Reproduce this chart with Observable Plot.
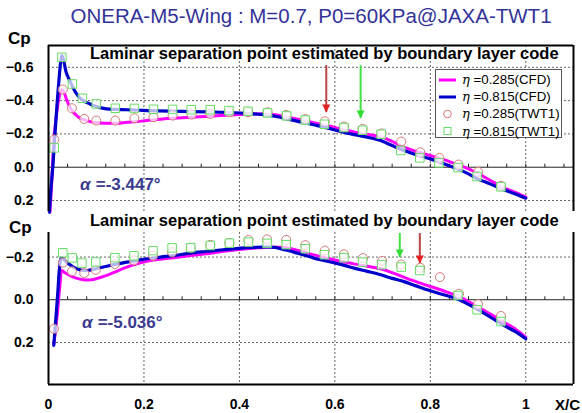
<!DOCTYPE html>
<html>
<head>
<meta charset="utf-8">
<script src="https://cdn.jsdelivr.net/npm/d3@7"></script>
<script src="https://cdn.jsdelivr.net/npm/@observablehq/plot@0.6"></script>
<style>
  body { margin: 0; background: #fff; font-family: "Liberation Sans", Arial, sans-serif; }
  #wrap { position: relative; width: 582px; height: 413px; overflow: hidden; background: #fff; }
  #title { position: absolute; left: 0; width: 622px; top: 6px; text-align: center; font-size: 20.5px; line-height: 1; color: #333399; white-space: nowrap; }
  .cp { position: absolute; font-size: 17px; font-weight: bold; line-height: 1; }
  #xc { position: absolute; left: 555px; top: 397px; font-size: 15px; font-weight: bold; line-height: 1; }
  .panel { position: absolute; left: 0; }
  #legend { position: absolute; left: 435px; top: 69px; width: 127px; height: 69px; border: 1px solid #555; background: #fff; box-sizing: border-box; padding-top: 1px; }
  #legend .row { height: 17.2px; display: flex; align-items: center; font-size: 13.3px; white-space: nowrap; }
  #legend svg { width: 24px; height: 14px; flex: none; }
  #legend i { font-family: "DejaVu Serif", serif; font-size: 13px; }
</style>
</head>
<body>
<div id="wrap">
  <div id="title">ONERA-M5-Wing : M=0.7, P0=60KPa@JAXA-TWT1</div>
  <div class="cp" style="left:8px;top:30px">Cp</div>
  <div class="cp" style="left:9px;top:219px">Cp</div>
  <div id="xc">X/C</div>
  <div id="top" class="panel" style="top:30px"></div>
  <div id="bottom" class="panel" style="top:205px"></div>
  <div id="legend"></div>
</div>
<script>
// Chordwise position X/C and pressure coefficient Cp, two span stations (eta).
// Upper panel: alpha = -3.447 deg
const topCfd285 = [
  [0.003,0.27],[0.007,0.08],[0.0115,-0.18],[0.017,-0.32],[0.021,-0.40],[0.025,-0.45],[0.028,-0.465],
  [0.032,-0.455],[0.035,-0.43],[0.040,-0.39],[0.045,-0.36],[0.052,-0.33],[0.059,-0.31],[0.068,-0.292],
  [0.08,-0.28],[0.094,-0.27],[0.108,-0.266],[0.125,-0.264],[0.143,-0.264],[0.165,-0.27],[0.185,-0.274],
  [0.21,-0.282],[0.24,-0.29],[0.27,-0.295],[0.30,-0.30],[0.33,-0.305],[0.36,-0.31],[0.39,-0.315],
  [0.42,-0.32],[0.45,-0.32],[0.475,-0.315],[0.5,-0.30],[0.52,-0.29],[0.542,-0.276],[0.563,-0.263],
  [0.584,-0.25],[0.605,-0.235],[0.626,-0.22],[0.647,-0.208],[0.668,-0.196],[0.696,-0.184],[0.72,-0.155],
  [0.745,-0.12],[0.77,-0.095],[0.80,-0.07],[0.83,-0.044],[0.857,-0.016],[0.88,0.01],[0.899,0.036],
  [0.925,0.078],[0.954,0.124],[0.98,0.153],[1.0,0.18]
];
const topCfd815 = [
  [0.002,0.27],[0.005,0.13],[0.009,0.0],[0.012,-0.13],[0.015,-0.26],[0.019,-0.42],[0.023,-0.56],
  [0.026,-0.645],[0.028,-0.67],[0.031,-0.65],[0.037,-0.57],[0.042,-0.535],[0.047,-0.505],[0.053,-0.47],
  [0.059,-0.44],[0.066,-0.415],[0.073,-0.40],[0.083,-0.385],[0.094,-0.37],[0.108,-0.358],[0.122,-0.35],
  [0.14,-0.347],[0.164,-0.345],[0.19,-0.342],[0.206,-0.34],[0.23,-0.338],[0.262,-0.336],[0.297,-0.334],
  [0.33,-0.332],[0.36,-0.33],[0.39,-0.327],[0.416,-0.323],[0.44,-0.318],[0.458,-0.314],[0.48,-0.303],
  [0.5,-0.29],[0.52,-0.277],[0.542,-0.264],[0.563,-0.25],[0.584,-0.236],[0.605,-0.22],[0.626,-0.204],
  [0.647,-0.192],[0.668,-0.18],[0.696,-0.16],[0.72,-0.13],[0.745,-0.10],[0.77,-0.075],[0.80,-0.05],
  [0.83,-0.02],[0.857,0.01],[0.88,0.04],[0.899,0.07],[0.925,0.10],[0.954,0.136],[0.98,0.162],[1.0,0.186]
];
const topTwt285 = [
  [0.012,-0.166],[0.030,-0.467],[0.049,-0.354],[0.075,-0.29],[0.10,-0.28],[0.14,-0.28],[0.18,-0.294],
  [0.22,-0.30],[0.26,-0.31],[0.30,-0.316],[0.339,-0.32],[0.379,-0.33],[0.418,-0.33],[0.459,-0.33],
  [0.498,-0.314],[0.538,-0.29],[0.579,-0.276],[0.619,-0.244],[0.658,-0.23],[0.698,-0.203],[0.739,-0.154],
  [0.779,-0.09],[0.819,-0.056],[0.859,-0.016],[0.90,0.028],[0.948,0.112]
];
const topTwt815 = [
  [0.012,-0.116],[0.028,-0.66],[0.05,-0.50],[0.071,-0.414],[0.10,-0.38],[0.14,-0.354],[0.18,-0.353],
  [0.22,-0.348],[0.26,-0.347],[0.299,-0.345],[0.339,-0.345],[0.378,-0.34],[0.418,-0.336],[0.459,-0.326],
  [0.499,-0.308],[0.538,-0.283],[0.578,-0.258],[0.619,-0.238],[0.658,-0.222],[0.697,-0.198],[0.738,-0.10],
  [0.778,-0.056],[0.818,-0.026],[0.858,0.002],[0.898,0.056],[0.948,0.118]
];

// Lower panel: alpha = -5.036 deg
const botCfd285 = [
  [0.011,0.21],[0.016,0.12],[0.02,0.03],[0.024,-0.067],[0.028,-0.137],[0.032,-0.13],[0.038,-0.122],
  [0.045,-0.113],[0.052,-0.106],[0.062,-0.099],[0.073,-0.094],[0.084,-0.093],[0.094,-0.095],[0.108,-0.104],
  [0.122,-0.114],[0.143,-0.133],[0.164,-0.153],[0.185,-0.168],[0.206,-0.18],[0.235,-0.19],[0.262,-0.197],
  [0.297,-0.207],[0.33,-0.215],[0.36,-0.225],[0.39,-0.233],[0.416,-0.239],[0.44,-0.243],[0.465,-0.246],
  [0.486,-0.246],[0.5,-0.244],[0.514,-0.236],[0.535,-0.224],[0.556,-0.21],[0.577,-0.198],[0.598,-0.187],
  [0.62,-0.177],[0.64,-0.168],[0.668,-0.157],[0.696,-0.145],[0.72,-0.127],[0.745,-0.105],[0.77,-0.085],
  [0.80,-0.062],[0.83,-0.04],[0.857,-0.018],[0.88,0.008],[0.899,0.032],[0.925,0.066],[0.954,0.105],
  [0.98,0.14],[1.0,0.175]
];
const botCfd815 = [
  [0.011,0.214],[0.014,0.13],[0.017,0.042],[0.020,-0.05],[0.023,-0.145],[0.027,-0.197],[0.032,-0.188],
  [0.038,-0.176],[0.045,-0.164],[0.052,-0.153],[0.06,-0.145],[0.07,-0.138],[0.082,-0.137],[0.094,-0.142],
  [0.108,-0.15],[0.122,-0.157],[0.143,-0.167],[0.164,-0.176],[0.185,-0.184],[0.206,-0.192],[0.235,-0.2],
  [0.262,-0.207],[0.297,-0.218],[0.33,-0.226],[0.36,-0.233],[0.39,-0.239],[0.416,-0.244],[0.44,-0.246],
  [0.458,-0.247],[0.475,-0.245],[0.486,-0.239],[0.5,-0.232],[0.514,-0.223],[0.535,-0.21],[0.556,-0.195],
  [0.577,-0.184],[0.598,-0.173],[0.62,-0.161],[0.64,-0.148],[0.668,-0.133],[0.696,-0.117],[0.72,-0.1],
  [0.745,-0.085],[0.77,-0.065],[0.80,-0.042],[0.83,-0.022],[0.857,-0.004],[0.88,0.022],[0.899,0.045],
  [0.925,0.08],[0.954,0.12],[0.98,0.152],[1.0,0.183]
];
const botTwt285 = [
  [0.0115,0.136],[0.03,-0.174],[0.049,-0.133],[0.075,-0.125],[0.099,-0.14],[0.139,-0.167],[0.179,-0.184],
  [0.219,-0.206],[0.259,-0.222],[0.298,-0.243],[0.339,-0.257],[0.379,-0.266],[0.419,-0.28],[0.458,-0.283],
  [0.498,-0.28],[0.538,-0.256],[0.579,-0.23],[0.619,-0.213],[0.659,-0.195],[0.699,-0.182],[0.739,-0.165],
  [0.779,-0.15],[0.82,-0.106],[0.86,-0.028],[0.90,0.021],[0.948,0.076]
];
const botTwt815 = [
  [0.03,-0.22],[0.05,-0.196],[0.07,-0.172],[0.099,-0.177],[0.139,-0.197],[0.179,-0.206],[0.219,-0.23],
  [0.259,-0.243],[0.298,-0.244],[0.339,-0.254],[0.379,-0.265],[0.419,-0.27],[0.458,-0.264],[0.498,-0.258],
  [0.538,-0.239],[0.578,-0.211],[0.619,-0.197],[0.658,-0.176],[0.698,-0.164],[0.739,-0.153],[0.778,-0.137],
  [0.858,-0.02],[0.898,0.047],[0.948,0.102]
];

// Laminar separation points from the boundary layer code (arrow from / to in Cp)
const topSeparation = [
  {eta: 0.285, x: 0.582, from: -0.61, to: -0.328},
  {eta: 0.815, x: 0.654, from: -0.61, to: -0.292}
];
const botSeparation = [
  {eta: 0.815, x: 0.736, from: -0.31, to: -0.198},
  {eta: 0.285, x: 0.778, from: -0.31, to: -0.17}
];

const noteText = "Laminar separation point estimated by boundary layer code";
const topNote = [{x: 0.087, cp: -0.683}];
const botNote = [{x: 0.087, cp: -0.368}];
const topAlpha = [{x: 0.066, cp: 0.104, value: "=-3.447°"}];
const botAlpha = [{x: 0.07, cp: 0.105, value: "=-5.036°"}];

const xTicks = [0, 0.2, 0.4, 0.6, 0.8, 1];
const topYTicks = [-0.6, -0.4, -0.2, 0.0, 0.2];
const botYTicks = [-0.2, 0.0, 0.2];
const xDomain = [0, 1.1];
const topYDomain = [0.266, -0.731];
const botYDomain = [0.397, -0.315];
const minorX = d3.range(1, 28).map(i => Math.round(i * 4) / 100);

const legendItems = [
  {kind: "line", color: "#ff00ff", label: "=0.285(CFD)"},
  {kind: "line", color: "#0000cc", label: "=0.815(CFD)"},
  {kind: "circle", color: "#d47a7a", label: "=0.285(TWT1)"},
  {kind: "square", color: "#66dd66", label: "=0.815(TWT1)"}
];

const rows = a => a.map(([x, cp]) => ({x, cp}));
const etaColor = {0.285: {shaft: "#b84444", head: "#e42222"}, 0.815: {shaft: "#44e044", head: "#33dd33"}};

// small upward tick on the Cp = 0 line
const tickUp = {draw(ctx) { ctx.moveTo(0, 0); ctx.lineTo(0, -3.5); }};
// filled arrow head with its tip at the anchor point
const headDown = {draw(ctx) { ctx.moveTo(0, 0); ctx.lineTo(-4, -8); ctx.lineTo(4, -8); ctx.closePath(); }};

const font = '"Liberation Sans", Arial, sans-serif';

function panel(o) {
  const gridY = o.yTicks.filter(d => d !== 0);
  const marks = [
    Plot.gridX(xTicks.filter(d => d > 0), {stroke: "#666", strokeOpacity: 1, strokeDasharray: "2,2"}),
    Plot.gridY(gridY, {stroke: "#666", strokeOpacity: 1, strokeDasharray: "2,2"}),
    Plot.ruleY([0], {stroke: "#222", strokeWidth: 1}),
    Plot.dot(minorX, {x: d => d, y: () => 0, symbol: tickUp, stroke: "#222", fill: "none", strokeWidth: 1}),
    Plot.line(rows(o.cfd285), {x: "x", y: "cp", stroke: "#ff00ff", strokeWidth: 3, curve: "catmull-rom"}),
    Plot.line(rows(o.cfd815), {x: "x", y: "cp", stroke: "#0000cc", strokeWidth: 3.2, curve: "catmull-rom"}),
    Plot.dot(rows(o.twt285), {x: "x", y: "cp", r: 4.5, stroke: "#d47a7a", strokeWidth: 1, fill: "#fff", fillOpacity: 0.7}),
    Plot.dot(rows(o.twt815), {x: "x", y: "cp", r: 4.8, symbol: "square", stroke: "#66dd66", strokeWidth: 1, fill: "#fff", fillOpacity: 0.7}),
    Plot.ruleX(o.sep, {x: "x", y1: "from", y2: "to", stroke: d => etaColor[d.eta].shaft, strokeWidth: 2}),
    Plot.dot(o.sep, {x: "x", y: "to", symbol: headDown, fill: d => etaColor[d.eta].head, stroke: "none"}),
    Plot.text(o.note, {x: "x", y: "cp", text: () => noteText, textAnchor: "start", fontWeight: "bold", fontSize: 16.5, fill: "#000"}),
    Plot.text(o.alpha, {x: "x", y: "cp", text: () => "α", textAnchor: "start", fontWeight: "bold", fontStyle: "italic", fontSize: 17, fill: "#3b3b8f"}),
    Plot.text(o.alpha, {x: "x", y: "cp", text: d => " " + d.value, dx: 11, textAnchor: "start", fontWeight: "bold", fontSize: 17, fill: "#3b3b8f"}),
    Plot.axisY(o.yTicks, {tickSize: 0, tickPadding: 15, tickFormat: d3.format(".1f"), fontSize: 14, fontWeight: "bold", fill: "#000", label: null}),
    Plot.ruleX([xDomain[0]], {stroke: "#000", strokeWidth: 2}),
    Plot.ruleX([xDomain[1]], {stroke: "#000", strokeWidth: 2}),
    Plot.ruleY([o.frameEdge], {stroke: "#000", strokeWidth: 2})
  ];
  if (o.showX) {
    marks.push(Plot.axisX(xTicks, {tickSize: 0, tickPadding: 15, tickFormat: d => String(d), fontSize: 14, fontWeight: "bold", fill: "#000", label: null}));
  }
  return Plot.plot({
    width: 582,
    height: o.height,
    marginLeft: 48,
    marginRight: 9,
    marginTop: o.marginTop,
    marginBottom: o.marginBottom,
    style: {fontFamily: font, background: "transparent", color: "#000", overflow: "visible"},
    x: {domain: xDomain, label: null, axis: o.showX ? undefined : null},
    y: {domain: o.yDomain, label: null},
    color: {type: "identity"},
    marks
  });
}

document.getElementById("top").append(panel({
  cfd285: topCfd285, cfd815: topCfd815, twt285: topTwt285, twt815: topTwt815,
  yDomain: topYDomain, yTicks: topYTicks, sep: topSeparation, note: topNote, alpha: topAlpha,
  height: 190, marginTop: 15, marginBottom: 9, showX: false, frameEdge: topYDomain[1]
}));
document.getElementById("bottom").append(panel({
  cfd285: botCfd285, cfd815: botCfd815, twt285: botTwt285, twt815: botTwt815,
  yDomain: botYDomain, yTicks: botYTicks, sep: botSeparation, note: botNote, alpha: botAlpha,
  height: 208, marginTop: 27, marginBottom: 29, showX: true, frameEdge: botYDomain[0]
}));

// legend: line and marker swatches with labels
const legend = d3.select("#legend");
for (const item of legendItems) {
  const row = legend.append("div").attr("class", "row");
  const svg = row.append("svg").attr("viewBox", "0 0 24 14");
  if (item.kind === "line") {
    svg.append("line").attr("x1", 3).attr("x2", 20).attr("y1", 7).attr("y2", 7)
      .attr("stroke", item.color).attr("stroke-width", 3);
  } else if (item.kind === "circle") {
    svg.append("circle").attr("cx", 11.5).attr("cy", 7).attr("r", 3.8)
      .attr("fill", "none").attr("stroke", item.color);
  } else {
    svg.append("rect").attr("x", 8).attr("y", 3.5).attr("width", 7).attr("height", 7)
      .attr("fill", "none").attr("stroke", item.color);
  }
  const label = row.append("span").style("margin-left", "2px");
  label.append("i").text("η");
  label.append("span").text(" " + item.label);
}
</script>
</body>
</html>
